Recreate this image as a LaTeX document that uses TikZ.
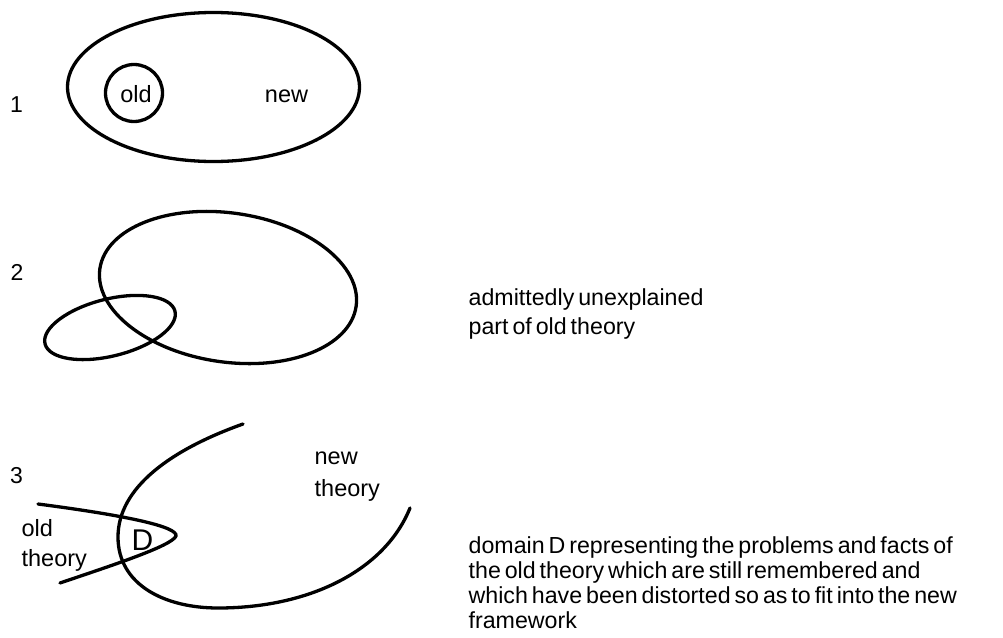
\documentclass[tikz,border=0pt]{standalone}
\usepackage{fontspec}
\setmainfont{Liberation Sans}
\newcommand\tightsp{\spaceskip=0.17em plus 0pt minus 0pt\relax}
\begin{document}
\begin{tikzpicture}[x=1pt,y=-1pt,line width=3.3pt,
  lbl/.style={font=\fontsize{23.5}{31}\selectfont, inner sep=0pt, anchor=base west},
  note/.style={font=\fontsize{23.2}{28}\selectfont, inner sep=0pt, anchor=base west},
  num/.style={font=\fontsize{23}{27}\selectfont, inner sep=0pt, anchor=base},
  curve/.style={line width=3.3pt, line cap=round}]
\useasboundingbox (0,0) rectangle (1003,637);
% ---------- panel 1
\node[num] (n1) at (16.5,112) {1};
\draw (213.5,87) ellipse [x radius=146pt, y radius=74.5pt];
\node[circle, draw, line width=3.3pt, minimum size=57pt, inner sep=0pt] (oldc) at (134,93) {};
\node[lbl, anchor=base] (old1) at (136,102) {old};
\node[lbl, anchor=base] (new1) at (286.5,102) {new};
% ---------- panel 2
\node[num] (n2) at (17,280) {2};
\draw[rotate around={-8.4:(228,287.5)}] (228,287.5) ellipse [x radius=129.5pt, y radius=74.5pt];
\draw[rotate around={14.1:(110,327.5)}] (110,327.5) ellipse [x radius=67pt, y radius=28.5pt];
\node[note] (t2a) at (467,305) {\tightsp admittedly unexplained};
\node[note] (t2b) at (467,334) {\tightsp part of old theory};
% ---------- panel 3
\node[num] (n3) at (16.5,483) {3};
\draw[curve] (243,424) .. controls (170,450) and (118,488) .. (118,537)
   .. controls (118,585) and (165,608) .. (218,608)
   .. controls (310,608) and (385,570) .. (410,508);
\draw[curve] (38,504) .. controls (130,516) and (178,527) .. (176,536)
   .. controls (172,546) and (110,566) .. (60,583);
\node[lbl] (nt1) at (313,464) {new};
\node[lbl] (nt2) at (313,496) {theory};
\node[lbl] (ot1) at (20,536) {old};
\node[lbl] (ot2) at (20,566) {theory};
\node[font=\fontsize{30}{34}\selectfont, inner sep=0pt, anchor=base] (D) at (142.5,550) {D};
\node[note] (t3a) at (467,553) {\tightsp domain D representing the problems and facts of};
\node[note] (t3b) at (467,578) {\tightsp the old theory which are still remembered and};
\node[note] (t3c) at (467,603) {\tightsp which have been distorted so as to fit into the new};
\node[note] (t3d) at (467,628) {\tightsp framework};
\end{tikzpicture}
\end{document}
